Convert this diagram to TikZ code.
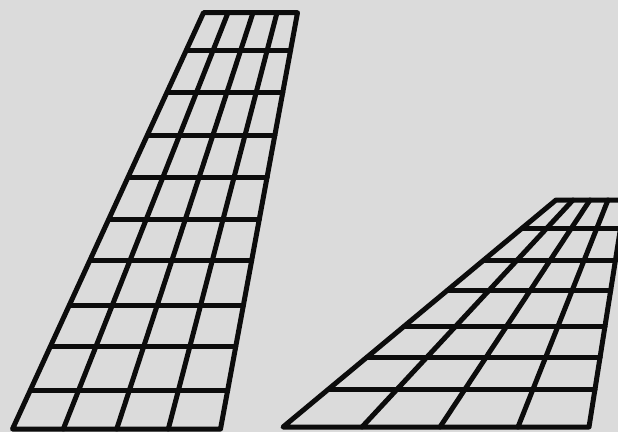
\documentclass[tikz,border=0pt]{standalone}
\usepackage{tikz}
\definecolor{paper}{RGB}{219,219,219}
\definecolor{ink}{RGB}{12,12,12}

\begin{document}
\begin{tikzpicture}[x=1pt,y=-1pt,line width=5pt,line cap=round,line join=round,draw=ink]
\fill[paper] (0,0) rectangle (618,432);
\clip (0,0) rectangle (618,432);
% tall panel
\coordinate (tl) at (203.5,12.7);
\coordinate (tr) at (297.5,12.7);
\coordinate (br) at (220.5,429);
\coordinate (bl) at (12.5,429);
\draw (tl) -- (tr) -- (br) -- (bl) -- cycle;
\draw (186.5,50.7) -- (290.5,50.7);
\draw (167.5,92.3) -- (282.8,92.3);
\draw (148,135) -- (274.9,135);
\draw (128.8,177) -- (267.1,177);
\draw (109.5,219.3) -- (259.3,219.3);
\draw (90.5,260.7) -- (251.6,260.7);
\draw (70,305) -- (243.4,305);
\draw (50.8,346.7) -- (235.7,346.7);
\draw (30.7,390) -- (227.7,390);
\draw (228,12.7) -- (63.3,429);
\draw (253,12.7) -- (116.7,429);
\draw (277,12.7) -- (168.3,429);
% swept panel
\coordinate (TL) at (556,200);
\coordinate (TR) at (625,200);
\coordinate (BR) at (589,427);
\coordinate (BL) at (283,427);
\draw (TL) -- (TR) -- (BR) -- (BL) -- cycle;
\draw (522.3,228) -- (620.6,228);
\draw (483.8,260) -- (615.5,260);
\draw (447.8,290) -- (610.7,290);
\draw (404.5,326) -- (605,326);
\draw (367.2,357) -- (600.1,357);
\draw (328.7,389) -- (595,389);
\draw (573,200) -- (362,427);
\draw (590,200) -- (440,427);
\draw (608,200) -- (518,427);
\end{tikzpicture}
\end{document}
